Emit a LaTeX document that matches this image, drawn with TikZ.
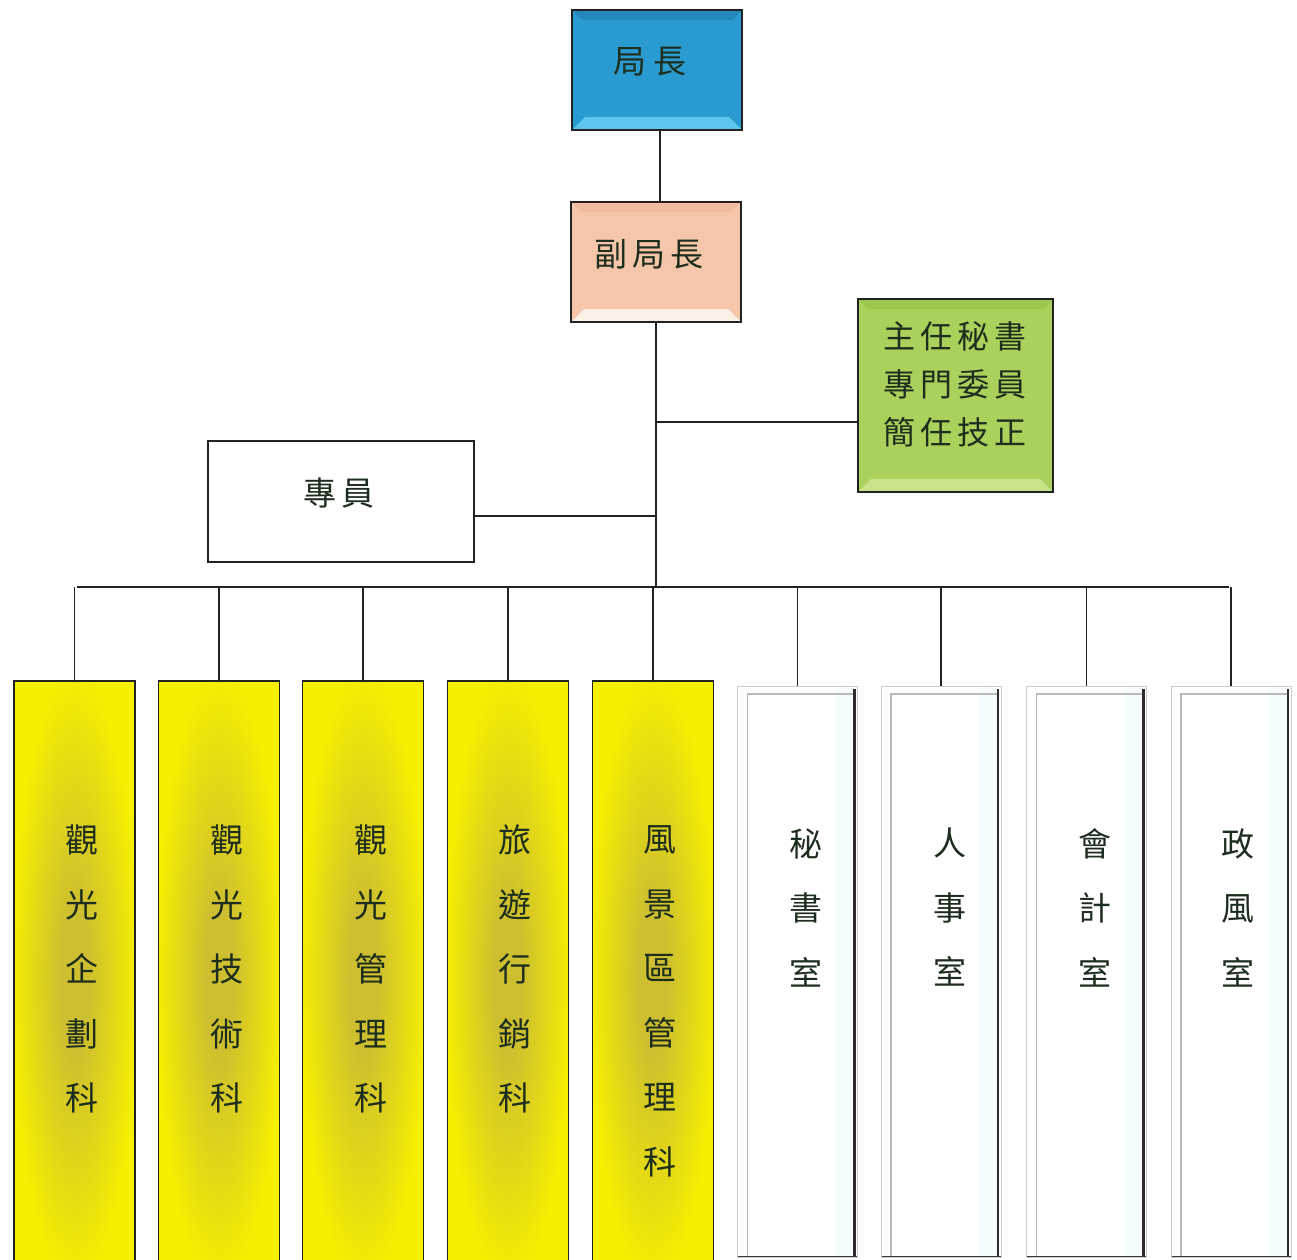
\documentclass[tikz,border=0pt]{standalone}
\usepackage{fontspec}
\newfontfamily\cjk{Noto Sans CJK TC}
\definecolor{ink}{HTML}{1E2E1E}
\definecolor{bord}{HTML}{222222}
\definecolor{bluemain}{HTML}{2A9BD0}
\definecolor{bluelight}{HTML}{5CC6EE}
\definecolor{bluedark}{HTML}{2488BC}
\definecolor{peachmain}{HTML}{F6C6AA}
\definecolor{peachlight}{HTML}{FDF0E6}
\definecolor{peachdark}{HTML}{F2BC9E}
\definecolor{greenmain}{HTML}{A9D15C}
\definecolor{greenlight}{HTML}{C8E38A}
\definecolor{greendark}{HTML}{9DC74F}
\definecolor{yel}{HTML}{F7EF00}
\definecolor{ymid}{HTML}{CDBF30}
\pgfdeclareradialshading{yshade}{\pgfpoint{0bp}{0bp}}{color(0bp)=(ymid); color(6bp)=(ymid); color(26bp)=(yel); color(50bp)=(yel)}
\newcommand\cg{\hspace{5pt}}
\begin{document}
\begin{tikzpicture}[x=1pt,y=-1pt,
  txt/.style={font=\cjk\fontsize{33}{40}\selectfont, text=ink, inner sep=0pt},
  gtxt/.style={font=\cjk\fontsize{32}{48}\selectfont, text=ink, inner sep=0pt, align=left},
  vtxt/.style={font=\cjk\fontsize{33}{64.5}\selectfont, text=ink, inner sep=0pt, align=center},
  bevel/.style n args={3}{fill=#1, draw=bord, line width=1.8pt, inner sep=0pt,
    path picture={
      \fill[#2] (path picture bounding box.south west) -- (path picture bounding box.south east)
        -- ([xshift=-13pt,yshift=13pt]path picture bounding box.south east)
        -- ([xshift=13pt,yshift=13pt]path picture bounding box.south west) -- cycle;
      \fill[#3] (path picture bounding box.north west) -- (path picture bounding box.north east)
        -- ([xshift=-10pt,yshift=-10pt]path picture bounding box.north east)
        -- ([xshift=10pt,yshift=-10pt]path picture bounding box.north west) -- cycle;
    }},
  ybox/.style={draw=bord, line width=1.6pt, shading=yshade,
    minimum width=121pt, minimum height=594pt, inner sep=0pt},
  wbox/.style={draw=gray!40, line width=1pt, fill=white,
    minimum width=120pt, minimum height=571pt, inner sep=0pt,
    path picture={
      \fill[cyan!4] ([xshift=-22pt]path picture bounding box.north east) rectangle ([xshift=-4pt]path picture bounding box.south east);
      \draw[gray!55, line width=1.6pt] ([xshift=10pt]path picture bounding box.south west)
        -- ([xshift=10pt,yshift=-8pt]path picture bounding box.north west)
        -- ([xshift=-4pt,yshift=-8pt]path picture bounding box.north east);
      \draw[gray!35!black, line width=2.5pt] ([xshift=-3pt,yshift=-3pt]path picture bounding box.north east)
        -- ([xshift=-3pt]path picture bounding box.south east);
      \draw[gray!45!black, line width=2pt] (path picture bounding box.south west) -- (path picture bounding box.south east);
    }},
  conn/.style={draw=bord, line width=1.6pt}]
\clip (0,0) rectangle (1297,1259);
\fill[white] (0,0) rectangle (1297,1259);

% top boxes
\node[bevel={bluemain}{bluelight}{bluedark}, minimum width=170pt, minimum height=120pt] (dir) at (657,70) {};
\node[txt] (dirT) at (650,62) {局\hspace{7pt}長};
\node[bevel={peachmain}{peachlight}{peachdark}, minimum width=170pt, minimum height=120pt] (dep) at (656,262) {};
\node[txt] (depT) at (649,254) {副\cg 局\cg 長};
\node[bevel={greenmain}{greenlight}{greendark}, minimum width=195pt, minimum height=193pt] (sec) at (955.5,395.5) {};
\node[gtxt] (secT) at (955,384) {主\cg 任\cg 秘\cg 書\\專\cg 門\cg 委\cg 員\\簡\cg 任\cg 技\cg 正};
\node[draw=bord, line width=1.8pt, fill=white, minimum width=266pt, minimum height=121pt, inner sep=0pt] (spec) at (341,501.5) {};
\node[txt] (specT) at (339,493) {專\cg 員};

% bus
\coordinate (busL) at (77,587);
\coordinate (busR) at (1229,587);
\coordinate (gj) at (656,422);
\coordinate (sj) at (656,516);

% yellow boxes
\node[ybox] (k1) at (74.5,978) {};
\node[ybox] (k2) at (219,978) {};
\node[ybox] (k3) at (363,978) {};
\node[ybox] (k4) at (508,978) {};
\node[ybox] (k5) at (653,978) {};
\node[vtxt] (k1T) at (82,969) {觀\\光\\企\\劃\\科};
\node[vtxt] (k2T) at (227,969) {觀\\光\\技\\術\\科};
\node[vtxt] (k3T) at (371,969) {觀\\光\\管\\理\\科};
\node[vtxt] (k4T) at (515,969) {旅\\遊\\行\\銷\\科};
\node[vtxt] (k5T) at (660,1001.5) {風\\景\\區\\管\\理\\科};

% white boxes
\node[wbox] (w1) at (797.5,971.5) {};
\node[wbox] (w2) at (941,971.5) {};
\node[wbox] (w3) at (1086.5,971.5) {};
\node[wbox] (w4) at (1231,971.5) {};
\node[vtxt] (w1T) at (806,907.5) {秘\\書\\室};
\node[vtxt] (w2T) at (950,907.5) {人\\事\\室};
\node[vtxt] (w3T) at (1095,907.5) {會\\計\\室};
\node[vtxt] (w4T) at (1238,907.5) {政\\風\\室};

% connectors
\draw[conn] ([xshift=3pt]dir.south) -- ([xshift=3pt]dir.south |- dep.north);
\draw[conn] (dep.south) -- (dep.south |- busL);
\draw[conn] (gj) -- (gj -| sec.west);
\draw[conn] (sj) -- (sj -| spec.east);
\draw[conn] (busL) -- (busR);
\foreach \n in {k1,k2,k3,k4,k5,w1,w2,w3,w4}
  \draw[conn] (\n.north) -- (\n.north |- busL);
\end{tikzpicture}
\end{document}
